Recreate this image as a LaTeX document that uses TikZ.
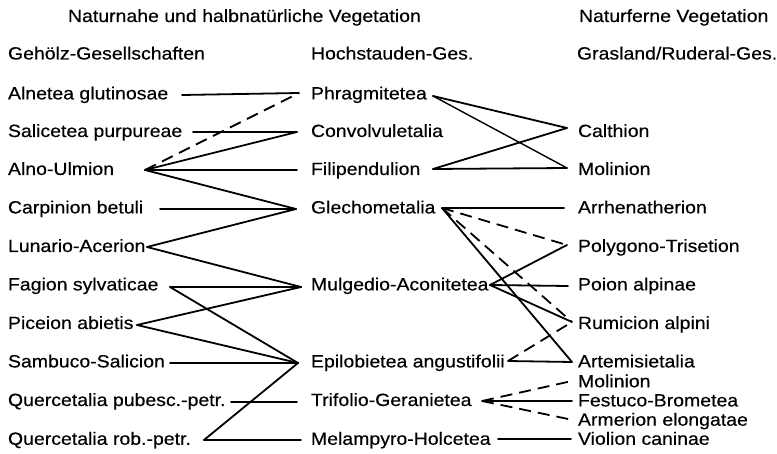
\documentclass[tikz,border=0pt]{standalone}
\usepackage{fontspec}
\setmainfont{Liberation Sans}[FakeStretch=1.1,FakeBold=0.4]
\begin{document}
\begin{tikzpicture}[x=1pt,y=-1pt,
  lbl/.style={anchor=base west,inner sep=0pt,outer sep=0pt,font=\fontsize{17.7}{20}\selectfont},
  conn/.style={line width=1.8pt,line cap=round,line join=round},
  dconn/.style={conn,line cap=butt,dash pattern=on 12pt off 7pt}]
\useasboundingbox (0,0) rectangle (777,454);
% headers
\node[lbl] (h1) at (68,22) {Naturnahe und halbnatürliche Vegetation};
\node[lbl] (h2) at (579,22) {Naturferne Vegetation};
\node[lbl] (g1) at (8,59.5) {Gehölz-Gesellschaften};
\node[lbl] (g2) at (311,59.5) {Hochstauden-Ges.};
\node[lbl] (g3) at (577,59.5) {Grasland/Ruderal-Ges.};
% left column
\node[lbl] (alnetea) at (8,99.4) {Alnetea glutinosae};
\node[lbl] (salic) at (8,137.0) {Salicetea purpureae};
\node[lbl] (alno) at (8,175.0) {Alno-Ulmion};
\node[lbl] (carp) at (8,213.4) {Carpinion betuli};
\node[lbl] (luna) at (8,252.0) {Lunario-Acerion};
\node[lbl] (fagion) at (8,290.4) {Fagion sylvaticae};
\node[lbl] (picea) at (8,329.0) {Piceion abietis};
\node[lbl] (sambuco) at (8,367.4) {Sambuco-Salicion};
\node[lbl] (qpub) at (8,406.0) {Quercetalia pubesc.-petr.};
\node[lbl] (qrob) at (8,444.8) {Quercetalia rob.-petr.};
% middle column
\node[lbl] (phrag) at (311,99.4) {Phragmitetea};
\node[lbl] (convo) at (311,137.0) {Convolvuletalia};
\node[lbl] (filip) at (311,175.0) {Filipendulion};
\node[lbl] (glech) at (311,213.4) {Glechometalia};
\node[lbl] (mulg) at (311,290.4) {Mulgedio-Aconitetea};
\node[lbl] (epil) at (311,367.4) {Epilobietea angustifolii};
\node[lbl] (trif) at (311,406.0) {Trifolio-Geranietea};
\node[lbl] (melam) at (311,444.8) {Melampyro-Holcetea};
% right column
\node[lbl] (calth) at (578,137.0) {Calthion};
\node[lbl] (molin) at (578,175.0) {Molinion};
\node[lbl] (arrh) at (578,213.4) {Arrhenatherion};
\node[lbl] (polyg) at (578,252.0) {Polygono-Trisetion};
\node[lbl] (poion) at (578,290.4) {Poion alpinae};
\node[lbl] (rumic) at (578,329.0) {Rumicion alpini};
\node[lbl] (artem) at (578,367.4) {Artemisietalia};
\node[lbl] (molinb) at (578,387.3) {Molinion};
\node[lbl] (festuco) at (578,406.4) {Festuco-Brometea};
\node[lbl] (armer) at (578,425.7) {Armerion elongatae};
\node[lbl] (violion) at (578,444.8) {Violion caninae};
% ports
\coordinate (alneteaR) at (182,95);
\coordinate (salicR) at (193,132);
\coordinate (alnoR) at (145,170);
\coordinate (carpR) at (160,209);
\coordinate (lunaR) at (147,247);
\coordinate (fagionR) at (170,287);
\coordinate (piceaR) at (137,325);
\coordinate (sambucoR) at (170,363);
\coordinate (qpubR) at (231,402);
\coordinate (qrobR) at (204,440);
\coordinate (phragL) at (299,93);
\coordinate (convoL) at (297,132);
\coordinate (filipL) at (297,170);
\coordinate (glechL) at (296,209);
\coordinate (mulgL) at (301,287);
\coordinate (epilL) at (298,363);
\coordinate (trifL) at (297,402);
\coordinate (melamL) at (301,440);
\coordinate (phragR) at (433,96);
\coordinate (filipR) at (433,169);
\coordinate (glechR) at (442,208);
\coordinate (mulgR) at (490,285);
\coordinate (epilR) at (508,361);
\coordinate (trifR) at (482,401);
\coordinate (melamR) at (498,439);
\coordinate (calthL) at (567,128);
\coordinate (molinL) at (567,168);
\coordinate (arrhL) at (564,208);
\coordinate (polygL) at (567,245);
\coordinate (poionL) at (568,286);
\coordinate (rumicL) at (572,322);
\coordinate (artemL) at (572,362);
\coordinate (molinbL) at (572,381);
\coordinate (festucoL) at (572,401);
\coordinate (armerL) at (573,420);
\coordinate (violionL) at (571,439);
% solid connectors
\draw[conn] (alneteaR) -- (phragL);
\draw[conn] (salicR) -- (convoL);
\draw[conn] (alnoR) -- (convoL);
\draw[conn] (alnoR) -- (filipL);
\draw[conn] (alnoR) -- (glechL);
\draw[conn] (carpR) -- (glechL);
\draw[conn] (lunaR) -- (glechL);
\draw[conn] (lunaR) -- (mulgL);
\draw[conn] (fagionR) -- (mulgL);
\draw[conn] (fagionR) -- (epilL);
\draw[conn] (piceaR) -- (mulgL);
\draw[conn] (piceaR) -- (epilL);
\draw[conn] (sambucoR) -- (epilL);
\draw[conn] (qpubR) -- (trifL);
\draw[conn] (qrobR) -- (epilL);
\draw[conn] (qrobR) -- (melamL);
\draw[conn] (phragR) -- (calthL);
\draw[conn,line width=1.4pt] (phragR) -- (molinL);
\draw[conn] (filipR) -- (calthL);
\draw[conn] (filipR) -- (molinL);
\draw[conn] (glechR) -- (arrhL);
\draw[conn] (glechR) -- (artemL);
\draw[conn] (mulgR) -- (polygL);
\draw[conn] (mulgR) -- (poionL);
\draw[conn] (mulgR) -- (rumicL);
\draw[conn] (epilR) -- (artemL);
\draw[conn] (trifR) -- (festucoL);
\draw[conn] (melamR) -- (violionL);
% dashed connectors
\draw[dconn] (alnoR) -- (phragL);
\draw[dconn] (glechR) -- (polygL);
\draw[dconn] (glechR) -- (rumicL);
\draw[dconn] (epilR) -- (rumicL);
\draw[dconn] (trifR) -- (molinbL);
\draw[dconn] (trifR) -- (armerL);
\end{tikzpicture}
\end{document}
